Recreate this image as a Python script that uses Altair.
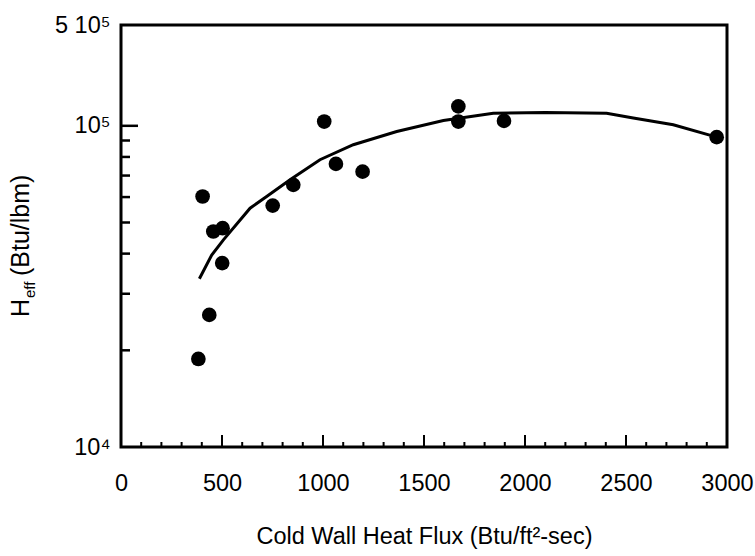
import altair as alt
import pandas as pd

# measured points
pt_x = [383, 437, 404, 457, 503, 501, 751, 853, 1006, 1064, 1196, 1670, 1670, 1896, 2949]
pt_y = [18800, 25780, 60250, 46880, 48000, 37370, 56450, 65500, 103100, 76100, 72000, 114900, 103100, 103600, 92200]

# fitted curve
ln_x = [388, 449, 507, 639, 721, 837, 985, 1150, 1365, 1596, 1843, 2100, 2404, 2536, 2734, 2949, 2975]
ln_y = [33400, 39600, 44150, 55400, 60250, 67900, 78400, 87300, 96000, 103900, 109500, 110000, 109500, 105700, 100700, 92200, 91500]

# tick positions
x_labels = [0, 500, 1000, 1500, 2000, 2500, 3000]
x_major = [500, 1000, 1500, 2000, 2500]
x_minor = [v for v in range(100, 3000, 100) if v % 500 != 0]
y_labels = [10000, 100000, 206000]
y_major = [100000]
y_minor = [20000, 30000, 40000, 50000, 60000, 70000, 80000, 90000]

W, H = 606, 422
FONT = "Liberation Sans"

xs = alt.Scale(domain=[0, 3000], nice=False, zero=False)
ys = alt.Scale(type="log", domain=[10000, 206000], nice=False)

pts = pd.DataFrame({"x": pt_x, "y": pt_y})
lns = pd.DataFrame({"x": ln_x, "y": ln_y})

base_x = alt.X("x:Q", scale=xs,
               axis=alt.Axis(values=x_labels, format="d", title="Cold Wall Heat Flux (Btu/ft²-sec)",
                             labelFontSize=23.5, titleFontSize=23.5, labelPadding=24, titlePadding=30,
                             labelFont=FONT, titleFont=FONT, titleFontWeight="normal",
                             labelColor="black", titleColor="black", domain=False, ticks=False,
                             grid=False, labelOverlap=False, labelFlush=False))
base_y = alt.Y("y:Q", scale=ys,
               axis=alt.Axis(values=y_labels, title=None,
                             labelExpr="datum.value == 10000 ? '10⁴' : (datum.value == 100000 ? '10⁵' : '5 10⁵')",
                             labelFontSize=23.5, labelFont=FONT, labelColor="black", labelPadding=11,
                             domain=False, ticks=False, grid=False, labelOverlap=False, labelFlush=False))

line = alt.Chart(lns).mark_line(color="black", strokeWidth=3).encode(x=base_x, y=base_y)
points = alt.Chart(pts).mark_circle(color="black", opacity=1, size=215).encode(
    x=alt.X("x:Q", scale=xs), y=alt.Y("y:Q", scale=ys))

xmaj = alt.Chart(pd.DataFrame({"x": x_major})).mark_rule(color="black", strokeWidth=2).encode(
    x=alt.X("x:Q", scale=xs), y=alt.value(H), y2=alt.value(H - 12))
xmin = alt.Chart(pd.DataFrame({"x": x_minor})).mark_rule(color="black", strokeWidth=2).encode(
    x=alt.X("x:Q", scale=xs), y=alt.value(H), y2=alt.value(H - 5))
ymaj = alt.Chart(pd.DataFrame({"y": y_major})).mark_rule(color="black", strokeWidth=2.5).encode(
    y=alt.Y("y:Q", scale=ys), x=alt.value(0), x2=alt.value(17))
ymin = alt.Chart(pd.DataFrame({"y": y_minor})).mark_rule(color="black", strokeWidth=2.5).encode(
    y=alt.Y("y:Q", scale=ys), x=alt.value(0), x2=alt.value(9))

t1 = alt.Chart(pd.DataFrame({"t": ["H"]})).mark_text(
    angle=270, align="left", baseline="middle", fontSize=25, font=FONT, color="black").encode(
    text="t:N", x=alt.value(-100), y=alt.value(292))
t2 = alt.Chart(pd.DataFrame({"t": ["eff"]})).mark_text(
    angle=270, align="left", baseline="middle", fontSize=15, font=FONT, color="black").encode(
    text="t:N", x=alt.value(-91), y=alt.value(273))
t3 = alt.Chart(pd.DataFrame({"t": ["(Btu/lbm)"]})).mark_text(
    angle=270, align="left", baseline="middle", fontSize=25, font=FONT, color="black").encode(
    text="t:N", x=alt.value(-100), y=alt.value(251))

chart = alt.layer(line, points, xmaj, xmin, ymaj, ymin, t1, t2, t3).properties(
    width=W, height=H,
    background="white",
    autosize=alt.AutoSizeParams(type="none"),
    padding={"left": 121, "top": 25, "right": 28, "bottom": 109},
).configure_view(stroke="black", strokeWidth=3)

chart.save("out.html", embed_options={"renderer": "svg", "actions": False})
